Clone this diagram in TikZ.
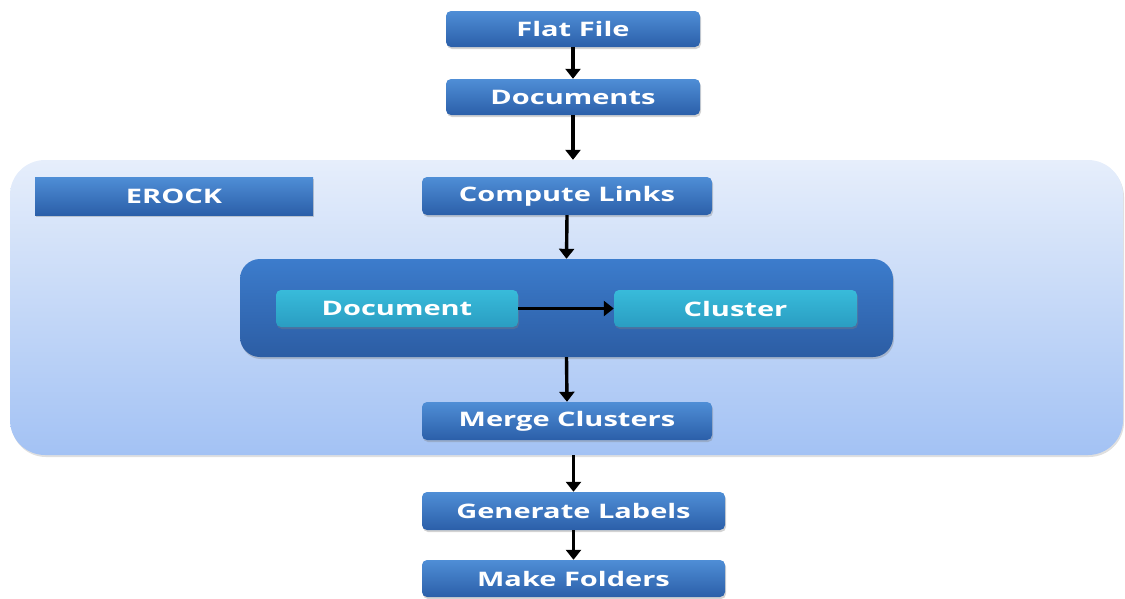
\documentclass[tikz,border=0pt]{standalone}
\usepackage{fontspec}
\setmainfont{Open Sans}[FakeStretch=1.45]
\usetikzlibrary{arrows.meta,shadows}
\definecolor{boxtop}{HTML}{4F8ED6}
\definecolor{boxbot}{HTML}{2B5FA9}
\definecolor{tealtop}{HTML}{38BBDA}
\definecolor{tealbot}{HTML}{2A9DC2}
\definecolor{innertop}{HTML}{3C7CCC}
\definecolor{innerbot}{HTML}{2C5DA4}
\definecolor{paneltop}{HTML}{E6EEFB}
\definecolor{panelbot}{HTML}{A3C2F4}
\tikzset{
  stage/.style={rectangle, rounded corners=5pt, top color=boxtop, bottom color=boxbot,
    text=white, font=\bfseries\fontsize{20}{23}\selectfont, inner sep=0pt,
    drop shadow={shadow xshift=1pt, shadow yshift=-2pt, opacity=0.35}},
  inner stage/.style={stage, top color=tealtop, bottom color=tealbot},
  flow/.style={line width=3.4pt, -{Triangle[length=10pt,width=15pt]}},
}
\begin{document}
\begin{tikzpicture}[x=1pt,y=-1pt]
\useasboundingbox (0,0) rectangle (1125,598);

% ERock region
\node (panel) at (566.5,307.5) [rectangle, rounded corners=35pt, minimum width=1113pt, minimum height=295pt,
  top color=paneltop, bottom color=panelbot,
  drop shadow={shadow xshift=1pt, shadow yshift=-2pt, opacity=0.25}] {};
\node (erock) at (174,196) [stage, rounded corners=0pt, minimum width=278pt, minimum height=38pt] {EROCK};
\node (compute) at (567,196) [stage, minimum width=290pt, minimum height=38pt] {Compute Links};
\node (inner) at (566.5,308) [rectangle, rounded corners=20pt, minimum width=653pt, minimum height=98pt,
  top color=innertop, bottom color=innerbot,
  drop shadow={shadow xshift=1pt, shadow yshift=-2pt, opacity=0.35}] {};
\node (document) at (397,308.5) [inner stage, minimum width=242pt, minimum height=37pt] {Document};
\node (cluster) at (735.5,308.5) [inner stage, minimum width=243pt, minimum height=37pt] {Cluster};
\node (merge) at (567,421) [stage, minimum width=290pt, minimum height=38pt] {Merge Clusters};

% pipeline outside the region
\node (flat) at (573,29) [stage, minimum width=254pt, minimum height=36pt] {Flat File};
\node (docs) at (573,97) [stage, minimum width=254pt, minimum height=36pt] {Documents};
\node (labels) at (573.5,511) [stage, minimum width=303pt, minimum height=38pt] {Generate Labels};
\node (folders) at (573.5,578.5) [stage, minimum width=303pt, minimum height=37pt] {Make Folders};

% connectors
\draw[flow] (flat.south) -- (docs.north);
\draw[flow] (docs.south) -- (docs.south |- panel.north);
\draw[flow] (compute.south) -- (inner.north);
\draw[flow] (document.east) -- (cluster.west);
\draw[flow] (inner.south) -- (merge.north);
\draw[flow] (labels.north |- panel.south) -- (labels.north);
\draw[flow] (labels.south) -- (folders.north);
\end{tikzpicture}
\end{document}
